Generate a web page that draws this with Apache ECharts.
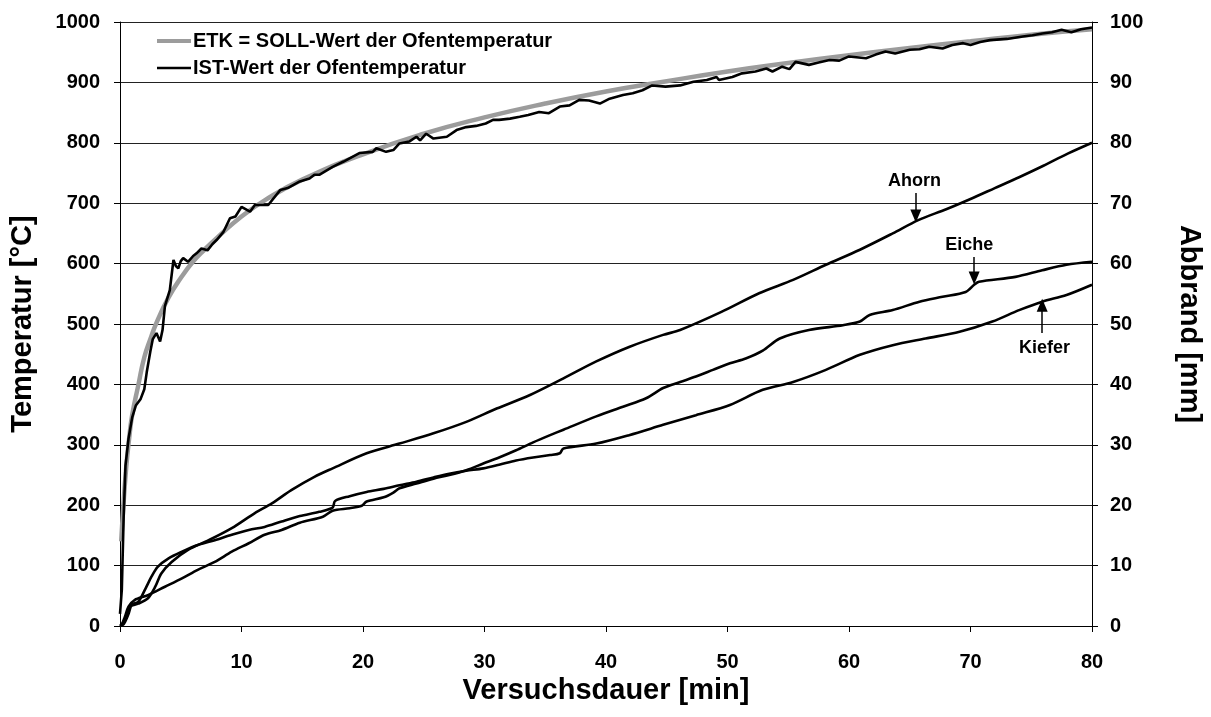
<!DOCTYPE html>
<html>
<head>
<meta charset="utf-8">
<script src="https://cdn.jsdelivr.net/npm/echarts@6/dist/echarts.min.js"></script>
<style>
html,body{margin:0;padding:0;background:#fff;}
#c{width:1211px;height:717px;}
</style>
</head>
<body>
<div id="c"></div>
<script>
const xTicks = [0,10,20,30,40,50,60,70,80];
const seriesNames = ['ETK = SOLL-Wert der Ofentemperatur','IST-Wert der Ofentemperatur','Ahorn','Eiche','Kiefer'];

const etk = [[0.1,140],[0.25,190],[0.5,260],[0.75,310],[1,349],[1.5,398],[2,445],[2.5,475],[3,502],[4,544],[5,576],[6,603],[7,624],[8,643],[10,678],[12,706],[15,739],[20,781],[25,815],[30,842],[35,865],[40,885],[45,902],[50,918],[55,932],[60,945],[65,957],[70,968],[75,979],[80,988]];

const ist = [[0,20],[0.15,60],[0.3,180],[0.45,265],[0.7,310],[1.0,345],[1.3,365],[1.7,376],[2.0,392],[2.2,420],[2.5,455],[2.7,475],[3.0,485],[3.3,471],[3.5,490],[3.7,530],[4.1,556],[4.4,606],[4.6,596],[4.8,592],[5.0,604],[5.2,609],[5.6,603],[6.0,612],[6.3,617],[6.7,625],[7.2,622],[7.6,632],[7.95,639],[8.5,652],[9.05,675],[9.5,678],[10.0,694],[10.7,686],[11.1,697],[12.2,697],[13.2,722],[13.8,725],[14.8,736],[15.6,741],[16.0,747],[16.4,747],[17.5,760],[18.4,769],[19.7,783],[20.8,785],[21.1,791],[21.9,785],[22.5,788],[23.0,799],[23.8,802],[24.4,810],[24.7,804],[25.2,815],[25.8,807],[26.9,810],[27.7,821],[28.5,826],[29.3,828],[30.1,832],[30.7,838],[31.2,838],[32.1,840],[32.9,843],[33.6,846],[34.5,851],[35.3,849],[36.2,860],[37.0,862],[37.8,871],[38.6,870],[39.5,865],[40.3,873],[41.4,879],[42.2,882],[43.0,887],[43.8,895],[44.9,893],[46.1,895],[47.2,901],[48.3,904],[49.1,909],[49.3,904],[50.4,909],[51.2,915],[52.3,918],[53.2,923],[53.7,918],[54.5,926],[55.1,922],[55.6,934],[56.7,929],[57.5,933],[58.4,937],[59.2,936],[60.0,943],[61.4,940],[62.2,946],[63.0,951],[63.8,948],[65.0,954],[65.8,955],[66.6,959],[67.7,956],[68.5,962],[69.4,965],[70.0,962],[70.8,967],[71.6,970],[73.0,972],[74.3,976],[75.1,978],[75.9,981],[76.7,983],[77.5,987],[78.3,983],[79.1,988],[80,991]];

const ahorn = [[0,0],[0.14,0.2],[0.5,1.5],[0.8,3.2],[1.5,3.7],[2.3,4.6],[2.9,6.5],[3.4,8.7],[4.25,10.6],[5.6,12.6],[7.3,14.2],[9.2,16.2],[11.1,18.7],[12.5,20.3],[14.1,22.5],[16.0,24.7],[17.5,26.1],[20.3,28.6],[23.0,30.2],[25.8,31.9],[28.5,33.8],[31,36],[33.7,38.2],[36.5,41.0],[39.2,43.8],[41.9,46.2],[44.7,48.2],[46.1,49.0],[49.5,52],[52.6,55.1],[55.4,57.3],[58.1,59.8],[60.9,62.3],[63.6,65.0],[65.7,67.2],[68,69],[70,70.7],[72,72.5],[74,74.3],[76,76.2],[78,78.2],[80,80.0]];

const eiche = [[0,0],[0.14,0.2],[0.4,1.5],[0.7,3.2],[1.2,4.3],[2.3,5.1],[3.7,6.5],[5.1,7.9],[6.4,9.3],[7.8,10.6],[9.2,12.3],[10.6,13.7],[11.9,15.1],[13.3,15.9],[14.8,17.1],[16.7,18.1],[17.5,19.1],[18.9,19.5],[19.9,19.9],[20.3,20.6],[21.7,21.3],[22.5,22.1],[23.0,22.8],[24.4,23.6],[25.8,24.4],[27.1,25.0],[28.5,25.8],[29.9,26.9],[31.2,27.9],[32.6,29.1],[34.0,30.4],[35.4,31.6],[36.5,32.5],[39.2,34.7],[41.4,36.3],[43.3,37.7],[44.7,39.4],[46.1,40.4],[47.4,41.3],[48.8,42.4],[50.2,43.5],[51.5,44.3],[52.9,45.6],[54.3,47.6],[56.7,49.0],[59.5,49.8],[60.9,50.4],[61.7,51.5],[63.6,52.3],[65.8,53.7],[67.7,54.5],[69.6,55.3],[70.3,56.5],[70.7,57.0],[73.7,57.8],[75.9,58.9],[77.9,59.8],[80,60.3]];

const kiefer = [[0,0],[0.3,0.3],[0.7,2.0],[0.96,3.5],[1.5,4.0],[2.1,6.2],[2.6,8.2],[3.1,9.8],[4.0,11.2],[5.1,12.3],[6.4,13.4],[7.8,14.2],[9.2,15.1],[10.6,15.9],[11.9,16.4],[13.3,17.3],[14.8,18.2],[16.4,18.9],[17.5,19.6],[17.7,20.7],[18.9,21.5],[20.3,22.2],[21.7,22.7],[23.0,23.3],[24.4,23.9],[25.8,24.6],[27.1,25.2],[28.5,25.7],[29.9,26.1],[31.2,26.7],[32.6,27.4],[34.0,27.9],[35.4,28.3],[36.2,28.6],[36.5,29.4],[39.2,30.2],[41.9,31.6],[44.7,33.3],[47.4,34.9],[50.2,36.6],[52.9,39.1],[55.4,40.4],[58.1,42.4],[60.9,44.9],[63.6,46.5],[66.3,47.6],[69.1,48.7],[71.8,50.4],[74.0,52.3],[75.9,53.7],[77.9,54.8],[80,56.5]];

// annotation labels [t, mm] and arrows [[t, mmFrom],[t, mmTo]]
const ahornLabel = [65.4, 73.7];
const ahornArrow = [[65.5, 71.7],[65.5, 67.9]];
const eicheLabel = [69.9, 63.1];
const eicheArrow = [[70.3, 61.1],[70.3, 57.6]];
const kieferLabel = [76.1, 46.0];
const kieferArrow = [[75.9, 48.5],[75.9, 53.1]];

const FONT = "'Liberation Sans', Arial, sans-serif";
const chart = echarts.init(document.getElementById('c'), null, {renderer:'canvas'});

function annot(label, arrow, text){
  return {
    markPoint: {
      silent: true, animation: false,
      symbol: 'circle', symbolSize: 1,
      itemStyle: {color: 'rgba(0,0,0,0)'},
      label: {show: true, position: 'inside', formatter: text, color: '#000',
              fontFamily: FONT, fontWeight: 'bold', fontSize: 18},
      data: [{coord: label}]
    },
    markLine: {
      silent: true, animation: false,
      symbol: ['none','triangle'], symbolSize: [11, 13],
      lineStyle: {color: '#000', width: 1.5, type: 'solid'},
      label: {show: false},
      data: [[{coord: arrow[0]}, {coord: arrow[1]}]]
    }
  };
}

const blackLine = {color:'#000', width: 2.6};
const titleStyle = {fontFamily: FONT, fontWeight: 'bold', fontSize: 29, color: '#000'};
chart.setOption({
  animation: false,
  backgroundColor: '#fff',
  grid: {left: 120, right: 118, top: 22, bottom: 91, containLabel: false},
  legend: {
    left: 152, top: 26, orient: 'vertical', itemGap: 7,
    itemWidth: 34, itemHeight: 4,
    data: [
      {name: seriesNames[0], icon: 'rect'},
      {name: seriesNames[1], icon: 'path://M0,0L34,0L34,0Z M0,4L34,4L34,4Z M0,0.7H34V3.3H0Z'}
    ],
    textStyle: {fontFamily: FONT, fontWeight: 'bold', fontSize: 20, color: '#000', padding: [0,0,0,-3]}
  },
  xAxis: {
    type: 'value', min: 0, max: 80, interval: 10,
    name: 'Versuchsdauer [min]', nameLocation: 'middle', nameGap: 50,
    nameTextStyle: titleStyle,
    axisLine: {show: true, onZero: false, lineStyle: {color: '#000', width: 1}},
    axisTick: {show: true, inside: false, length: 6, lineStyle: {color:'#000'}},
    axisLabel: {margin: 26, fontFamily: FONT, fontWeight: 'bold', fontSize: 20, color: '#000',
                formatter: v => xTicks.includes(v) ? String(v) : ''},
    splitLine: {show: false}
  },
  yAxis: [{
    type: 'value', min: 0, max: 1000, interval: 100, position: 'left',
    name: 'Temperatur [°C]', nameLocation: 'middle', nameGap: 83,
    nameTextStyle: titleStyle,
    axisLine: {show: true, lineStyle: {color:'#000', width: 1}},
    axisTick: {show: true, inside: false, length: 6, lineStyle: {color:'#000'}},
    axisLabel: {margin: 20, fontFamily: FONT, fontWeight: 'bold', fontSize: 20, color: '#000',
                formatter: v => String(v)},
    splitLine: {show: true, lineStyle: {color: '#222', width: 1}}
  },{
    type: 'value', min: 0, max: 100, interval: 10, position: 'right',
    name: 'Abbrand [mm]', nameLocation: 'middle', nameGap: 82, nameRotate: -90,
    nameTextStyle: titleStyle,
    axisLine: {show: true, lineStyle: {color:'#000', width: 1}},
    axisTick: {show: true, inside: false, length: 6, lineStyle: {color:'#000'}},
    axisLabel: {margin: 18, fontFamily: FONT, fontWeight: 'bold', fontSize: 20, color: '#000',
                formatter: v => String(v)},
    splitLine: {show: false}
  }],
  series: [
    {name: seriesNames[0], type: 'line', data: etk, smooth: true, symbol: 'none', showSymbol: false,
     lineStyle: {color: '#9c9c9c', width: 4.5}, itemStyle: {color: '#9c9c9c'}, z: 2},
    {name: seriesNames[1], type: 'line', data: ist, symbol: 'none', showSymbol: false,
     lineStyle: blackLine, itemStyle: {color: '#000'}, z: 3},
    Object.assign({name: seriesNames[2], type: 'line', yAxisIndex: 1, data: ahorn, smooth: 0.3, symbol: 'none', showSymbol: false,
     lineStyle: blackLine, itemStyle: {color: '#000'}, z: 3}, annot(ahornLabel, ahornArrow, 'Ahorn')),
    Object.assign({name: seriesNames[3], type: 'line', yAxisIndex: 1, data: eiche, smooth: 0.3, symbol: 'none', showSymbol: false,
     lineStyle: blackLine, itemStyle: {color: '#000'}, z: 3}, annot(eicheLabel, eicheArrow, 'Eiche')),
    Object.assign({name: seriesNames[4], type: 'line', yAxisIndex: 1, data: kiefer, smooth: 0.3, symbol: 'none', showSymbol: false,
     lineStyle: blackLine, itemStyle: {color: '#000'}, z: 3}, annot(kieferLabel, kieferArrow, 'Kiefer'))
  ]
});
</script>
</body>
</html>
